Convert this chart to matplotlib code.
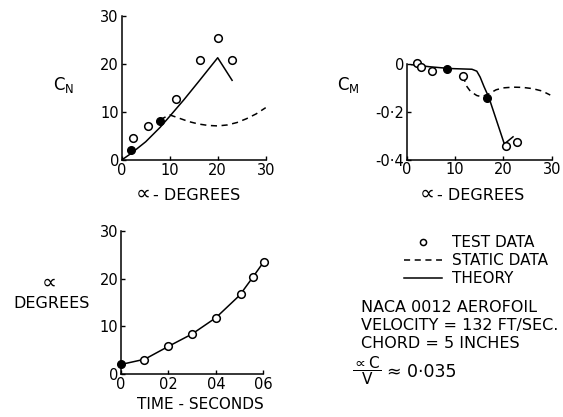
import matplotlib
matplotlib.use("Agg")
import matplotlib.pyplot as plt

# C_N against incidence
cn_test_a = [2.4, 5.4, 11.4, 16.3, 20.0, 22.9]
cn_test_v = [4.5, 7.1, 12.8, 20.8, 25.4, 20.8]
cn_fill_a = [2.0, 7.9]
cn_fill_v = [2.0, 8.1]
cn_theory_a = [0, 2, 5, 8, 10, 13, 16, 18, 20, 23]
cn_theory_v = [0, 1.4, 3.8, 6.8, 9.1, 12.6, 16.3, 18.8, 21.3, 16.6]
cn_static_a = [8, 10, 12, 14, 16, 18, 20, 22, 24, 26, 28, 30]
cn_static_v = [8.4, 9.4, 8.7, 8.0, 7.5, 7.2, 7.1, 7.3, 7.8, 8.6, 9.6, 10.9]

# C_M against incidence
cm_test_a = [2.1, 3.0, 5.2, 11.7, 20.5, 22.9]
cm_test_v = [0.003, -0.014, -0.028, -0.05, -0.343, -0.326]
cm_fill_a = [8.3, 16.7]
cm_fill_v = [-0.021, -0.141]
cm_theory_a = [1, 5, 9, 13.5, 14.5, 15.2, 16, 17, 20.2, 22]
cm_theory_v = [-0.003, -0.012, -0.019, -0.022, -0.03, -0.055, -0.095, -0.14, -0.335, -0.305]
cm_static_a = [11.7, 12.3, 13.2, 14.5, 15.5, 17, 18.5, 20, 22, 24, 26, 28, 29.7]
cm_static_v = [-0.05, -0.09, -0.115, -0.132, -0.137, -0.125, -0.108, -0.1, -0.097, -0.098, -0.103, -0.113, -0.13]

# incidence against time
t_test = [0.0097, 0.02, 0.0299, 0.04, 0.0506, 0.0556, 0.0601]
alpha_test = [2.9, 5.9, 8.3, 11.7, 16.7, 20.3, 23.4]
t_fill = [0.0]
alpha_fill = [2.0]
t_theory = [0, 0.01, 0.02, 0.03, 0.04, 0.05, 0.055, 0.06]
alpha_theory = [2.0, 3.1, 5.8, 8.4, 11.8, 16.5, 19.9, 23.4]

W, H = 563, 417
plt.rcParams['font.family'] = 'DejaVu Sans'
plt.rcParams['mathtext.fontset'] = 'dejavusans'
fig = plt.figure(figsize=(W / 100, H / 100), dpi=100)


def px(x, y):
    return x / W, 1 - y / H


def rect(left, top, right, bottom):
    return [left / W, 1 - bottom / H, (right - left) / W, (bottom - top) / H]


def style(ax):
    for s in ['top', 'right']:
        ax.spines[s].set_visible(False)
    for s in ['left', 'bottom']:
        ax.spines[s].set_linewidth(1.1)
    ax.tick_params(direction='in', length=3, width=1, labelsize=10.5, pad=2)


mk_open = dict(marker='o', ms=5.5, mfc='white', mec='black', mew=1.1, ls='none', clip_on=False, zorder=4)
mk_fill = dict(marker='o', ms=5.5, mfc='black', mec='black', ls='none', clip_on=False, zorder=4)
theory_kw = dict(color='black', lw=1.1)
static_kw = dict(color='black', lw=1.1, dashes=(4, 3))

# top left: C_N
ax1 = fig.add_axes(rect(121.7, 16, 265.7, 160))
h_theory, = ax1.plot(cn_theory_a, cn_theory_v, **theory_kw)
h_static, = ax1.plot(cn_static_a, cn_static_v, **static_kw)
h_test, = ax1.plot(cn_test_a, cn_test_v, **mk_open)
ax1.plot(cn_fill_a, cn_fill_v, **mk_fill)
ax1.set_xlim(0, 30)
ax1.set_ylim(0, 30)
ax1.set_xticks([0, 10, 20, 30])
ax1.set_yticks([0, 10, 20, 30])
style(ax1)
ax1.set_ylabel('C$_\\mathregular{N}$', fontsize=12, rotation=0)
ax1.yaxis.set_label_coords(-0.40, 0.45)

# top right: C_M
ax2 = fig.add_axes(rect(406.7, 64, 551.7, 159.5))
ax2.plot(cm_theory_a, cm_theory_v, **theory_kw)
ax2.plot(cm_static_a, cm_static_v, **static_kw)
ax2.plot(cm_test_a, cm_test_v, **mk_open)
ax2.plot(cm_fill_a, cm_fill_v, **mk_fill)
ax2.set_xlim(0, 30)
ax2.set_ylim(-0.4, 0)
ax2.set_xticks([0, 10, 20, 30])
ax2.set_yticks([0, -0.2, -0.4])
ax2.set_yticklabels(['0', '-0·2', '-0·4'])
style(ax2)
ax2.set_ylabel('C$_\\mathregular{M}$', fontsize=12, rotation=0)
ax2.yaxis.set_label_coords(-0.40, 0.68)

# x labels with a large proportional sign for alpha
for cx, dx in [(143, 153), (427, 437)]:
    fig.text(*px(cx, 200), '∝', fontsize=15, ha='center', va='baseline')
    fig.text(*px(dx, 200), '- DEGREES', fontsize=11.5, ha='left', va='baseline')

# bottom left: alpha vs time
ax3 = fig.add_axes(rect(121, 231, 263.3, 374))
ax3.plot(t_theory, alpha_theory, **theory_kw)
ax3.plot(t_test, alpha_test, **mk_open)
ax3.plot(t_fill, alpha_fill, **mk_fill)
ax3.set_xlim(0, 0.06)
ax3.set_ylim(0, 30)
ax3.set_xticks([0, 0.02, 0.04, 0.06])
ax3.set_xticklabels(['0', '02', '04', '06'])
ax3.set_yticks([0, 10, 20, 30])
style(ax3)
ax3.set_xlabel('TIME - SECONDS', fontsize=11)
ax3.xaxis.set_label_coords(0.56, -0.16)
fig.text(*px(49, 289), '∝', fontsize=15, ha='center', va='baseline')
fig.text(*px(52, 303), 'DEGREES', fontsize=11.5, ha='center', va='center')

# key and notes
fig.legend([h_test, h_static, h_theory], ['TEST DATA', 'STATIC DATA', 'THEORY'],
           loc='upper left', bbox_to_anchor=px(404, 235), frameon=False, fontsize=11,
           handlelength=2.5, handletextpad=0.65, labelspacing=0.2, borderpad=0,
           borderaxespad=0, numpoints=1, markerscale=0.8)

notes = ['NACA 0012 AEROFOIL', 'VELOCITY = 132 FT/SEC.', 'CHORD = 5 INCHES']
for i, line in enumerate(notes):
    fig.text(*px(361, 307 + 18.3 * i), line, fontsize=11.5, va='center', ha='left')
fig.text(*px(367, 371), r'$\dfrac{\propto \mathrm{C}}{\mathrm{V}}$', fontsize=11, va='center', ha='center')
fig.text(*px(387, 372), '≈ 0·035', fontsize=12.5, va='center', ha='left')

fig.savefig('out.png', dpi=100)
